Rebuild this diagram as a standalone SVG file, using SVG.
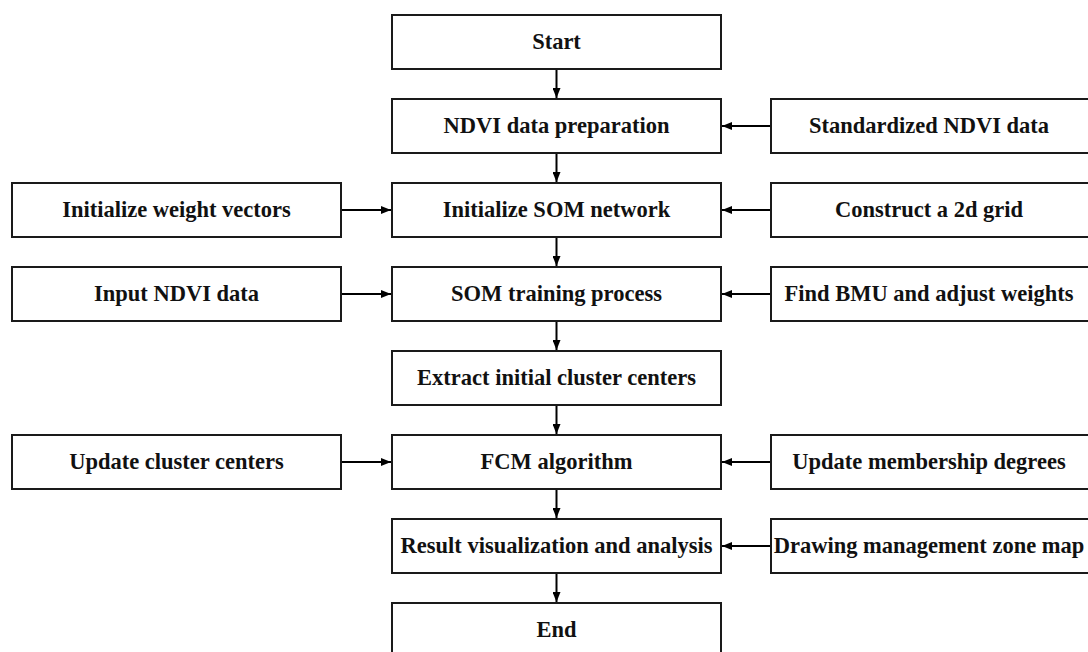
<svg xmlns="http://www.w3.org/2000/svg" width="1088" height="652" viewBox="0 0 1088 652">
<defs>
<marker id="ah" viewBox="0 0 10 8" refX="10" refY="4" markerWidth="10" markerHeight="8" markerUnits="userSpaceOnUse" orient="auto">
<path d="M0,0 L10,4 L0,8 Z" fill="#000"/>
</marker>
<style>
rect{fill:#fff;stroke:#1a1a1a;stroke-width:2}
text{font-family:"Liberation Serif","Times New Roman",serif;font-weight:bold;font-size:22.5px;fill:#111;text-anchor:middle}
.c line{stroke:#000;stroke-width:2;marker-end:url(#ah)}
</style>
</defs>
<rect x="0" y="0" width="1088" height="652" style="fill:#fff;stroke:none"/>
<g class="c" id="connectors">
<line x1="556.5" y1="69" x2="556.5" y2="98"/>
<line x1="556.5" y1="153" x2="556.5" y2="182"/>
<line x1="556.5" y1="237" x2="556.5" y2="266"/>
<line x1="556.5" y1="321" x2="556.5" y2="350"/>
<line x1="556.5" y1="405" x2="556.5" y2="434"/>
<line x1="556.5" y1="489" x2="556.5" y2="518"/>
<line x1="556.5" y1="573" x2="556.5" y2="602"/>
<line x1="771" y1="126" x2="722" y2="126"/>
<line x1="771" y1="210" x2="722" y2="210"/>
<line x1="771" y1="294" x2="722" y2="294"/>
<line x1="771" y1="462" x2="722" y2="462"/>
<line x1="771" y1="546" x2="722" y2="546"/>
<line x1="341" y1="210" x2="391" y2="210"/>
<line x1="341" y1="294" x2="391" y2="294"/>
<line x1="341" y1="462" x2="391" y2="462"/>
</g>
<g id="start"><rect x="392" y="15" width="329" height="54"/><text x="556.5" y="49">Start</text></g>
<g id="ndvi-prep"><rect x="392" y="99" width="329" height="54"/><text x="556.5" y="133">NDVI data preparation</text></g>
<g id="init-som"><rect x="392" y="183" width="329" height="54"/><text x="556.5" y="217">Initialize SOM network</text></g>
<g id="som-train"><rect x="392" y="267" width="329" height="54"/><text x="556.5" y="301">SOM training process</text></g>
<g id="extract"><rect x="392" y="351" width="329" height="54"/><text x="556.5" y="385">Extract initial cluster centers</text></g>
<g id="fcm"><rect x="392" y="435" width="329" height="54"/><text x="556.5" y="469">FCM algorithm</text></g>
<g id="result"><rect x="392" y="519" width="329" height="54"/><text x="556.5" y="553">Result visualization and analysis</text></g>
<g id="end"><rect x="392" y="603" width="329" height="54"/><text x="556.5" y="637">End</text></g>
<g id="init-weights"><rect x="12" y="183" width="329" height="54"/><text x="176.5" y="217">Initialize weight vectors</text></g>
<g id="input-ndvi"><rect x="12" y="267" width="329" height="54"/><text x="176.5" y="301">Input NDVI data</text></g>
<g id="update-centers"><rect x="12" y="435" width="329" height="54"/><text x="176.5" y="469">Update cluster centers</text></g>
<g id="std-ndvi"><rect x="771" y="99" width="329" height="54"/><text x="929" y="133">Standardized NDVI data</text></g>
<g id="grid"><rect x="771" y="183" width="329" height="54"/><text x="929" y="217">Construct a 2d grid</text></g>
<g id="bmu"><rect x="771" y="267" width="329" height="54"/><text x="929" y="301">Find BMU and adjust weights</text></g>
<g id="membership"><rect x="771" y="435" width="329" height="54"/><text x="929" y="469">Update membership degrees</text></g>
<g id="drawing"><rect x="771" y="519" width="329" height="54"/><text x="929" y="553">Drawing management zone map</text></g>
</svg>
